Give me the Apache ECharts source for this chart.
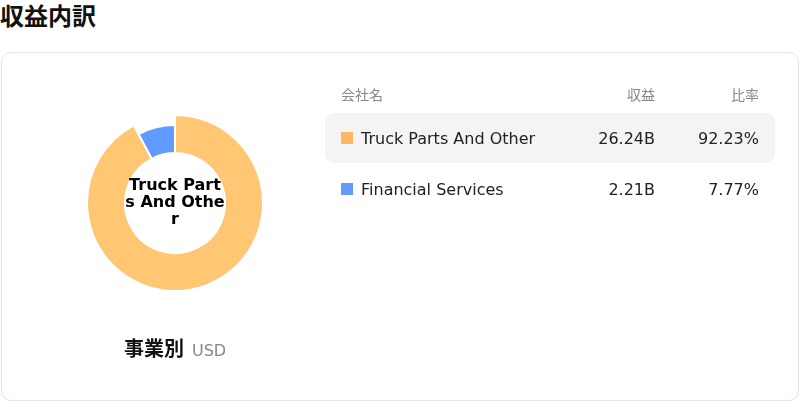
<!DOCTYPE html>
<html>
<head>
<meta charset="utf-8">
<script src="https://cdn.jsdelivr.net/npm/echarts@6/dist/echarts.min.js"></script>
<style>
  html, body { margin: 0; padding: 0; width: 800px; height: 402px; background: #fff; overflow: hidden;
    font-family: "DejaVu Sans", "Noto Sans CJK JP", sans-serif; }
  #title { position: absolute; left: 0; top: 2px; font-size: 24px; font-weight: bold; color: #111; line-height: 30px; }
  #card { position: absolute; left: 1px; top: 52px; width: 796px; height: 347px; border: 1px solid #e2e2ea; border-radius: 10px; }
  #chart { position: absolute; left: 0; top: 0; width: 800px; height: 402px; }
  #caption { position: absolute; left: 124px; top: 336px; line-height: 26px; white-space: nowrap; }
  #caption .main { font-size: 20px; font-weight: bold; color: #111; }
  #caption .unit { font-size: 16px; color: #888; margin-left: 8px; }
  .row { position: absolute; left: 325px; width: 450px; height: 50px; border-radius: 9px; }
  .row.hl { background: #f4f4f4; }
  .cell { position: absolute; top: 1px; height: 50px; line-height: 50px; font-size: 16px; color: #222; white-space: nowrap; }
  .hdr .cell { font-size: 14px; color: #888; height: 24px; line-height: 24px; top: 0; }
  .sq { position: absolute; left: 16px; top: 19px; width: 12px; height: 12px; }
</style>
</head>
<body>
<div id="title">収益内訳</div>
<div id="card"></div>
<div id="chart"></div>
<div id="caption"><span class="main">事業別</span><span class="unit">USD</span></div>
<div id="table"></div>
<script>
const categories = ["Truck Parts And Other", "Financial Services"];
const revenues = [26.24, 2.21];           // billions USD
const revenueLabels = ["26.24B", "2.21B"];
const ratios = [92.23, 7.77];             // percent
const colors = ["#FDB664", "#619BFF"];
const headers = ["会社名", "収益", "比率"];

// table
const table = document.getElementById('table');
let html = '<div class="row hdr" style="top:83px;height:24px">' +
  '<div class="cell" style="left:16px">' + headers[0] + '</div>' +
  '<div class="cell" style="right:120px">' + headers[1] + '</div>' +
  '<div class="cell" style="right:16px">' + headers[2] + '</div></div>';
categories.forEach((c, i) => {
  const top = 113 + i * 51;
  html += '<div class="row' + (i === 0 ? ' hl' : '') + '" style="top:' + top + 'px">' +
    '<div class="sq" style="background:' + colors[i] + '"></div>' +
    '<div class="cell" style="left:36px">' + c + '</div>' +
    '<div class="cell" style="right:120px">' + revenueLabels[i] + '</div>' +
    '<div class="cell" style="right:16px">' + ratios[i].toFixed(2) + '%</div></div>';
});
table.innerHTML = html;

const chart = echarts.init(document.getElementById('chart'), null, { renderer: 'canvas' });
chart.setOption({
  animation: false,
  series: [{
    type: 'pie',
    center: [175, 203],
    radius: [50, 78],
    startAngle: 90,
    clockwise: true,
    avoidLabelOverlap: false,
    itemStyle: { borderColor: '#fff', borderWidth: 2 },
    label: {
      show: false,
      position: 'center',
      width: 100,
      overflow: 'breakAll',
      fontSize: 16,
      fontWeight: 'bold',
      color: '#000',
      lineHeight: 17,
      fontFamily: '"DejaVu Sans", "Noto Sans CJK JP", sans-serif',
      formatter: '{b}'
    },
    labelLine: { show: false },
    emphasis: {
      scale: true,
      scaleSize: 10,
      label: { show: true },
      itemStyle: { color: '#FFC673' }
    },
    data: categories.map((c, i) => ({ name: c, value: revenues[i], itemStyle: { color: colors[i] } }))
  }]
});
chart.dispatchAction({ type: 'highlight', seriesIndex: 0, dataIndex: 0 });
</script>
</body>
</html>
